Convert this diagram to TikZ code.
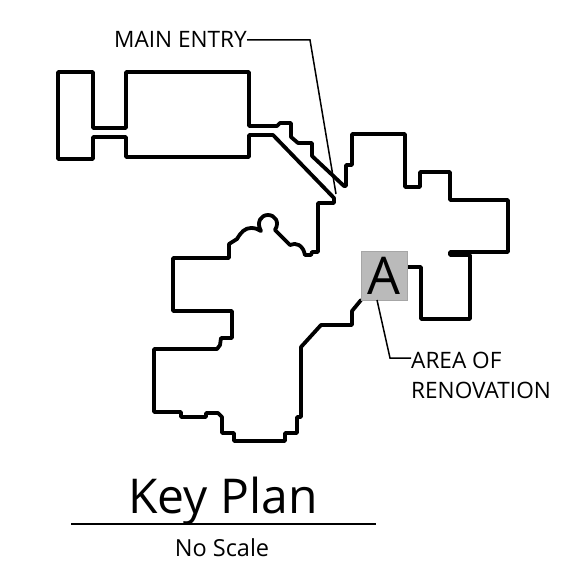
\documentclass[tikz,border=0pt]{standalone}
\usepackage{fontspec}
\setmainfont{Open Sans}
\begin{document}
\begin{tikzpicture}[x=1pt,y=-1pt,
  wall/.style={line width=3.8pt,line join=round,line cap=round,black},
  leader/.style={line width=1.5pt,black},
  lab/.style={inner sep=0pt,font=\fontsize{22.6}{30}\selectfont,align=left}]
\useasboundingbox (0,0) rectangle (567,577);
\draw[wall] (361,300)--(352,311)--(352,325)--(321,325)--(301,347)--(301,417)--(297,417)--(297,433)--(285,433)--(285,441)--(234,441)--(234,433)--(222,433)--(222,417)--(218,413)--(206,413)--(206,417)--(181,417)--(181,412)--(154,412)--(154,349)--(217,349)--(220,345)--(221,338)--(232,338)--(232,311)--(173,311)--(173,258)--(229,258)--(229,244)--(237,239)
 .. controls (241,232) and (245,228) .. (251,228)
 .. controls (255,228) and (258,229) .. (261,231)
 .. controls (256,222) and (261,215) .. (268,215)
 .. controls (275,215) and (280,222) .. (275,230)
 --(290,245)
 .. controls (296,242) and (303,245) .. (305,255)
 --(311,255)--(312,252)--(318,252)--(318,203)--(334,203)--(334,198)--(273,135)--(249,135)--(249,157)--(126,157)--(126,137)--(93,137)--(93,159)--(58,159)--(58,72)--(93,72)--(93,128)--(126,128)--(126,72)--(249,72)--(249,126)--(277,126)--(280,123)--(291,123)--(291,137)--(298,143)--(312,143)--(312,156)--(344,186)--(346,186)--(346,165)--(352,165)--(352,134)--(405,134)--(405,187)--(420,187)--(420,172)--(450,172)--(450,200)--(508,200)--(508,252)--(450,252)--(450,255)--(470,255)--(470,319)--(421,319)--(421,267)--(407,267);
\node[draw=black!35,line width=1pt,fill=black!27,minimum width=46pt,minimum height=49pt,inner sep=0pt,
  font=\fontsize{52}{52}\selectfont] (areaA) at (384,275.5) {A};
\node[lab,anchor=east] (mainentry) at (247,39) {MAIN ENTRY};
\node[lab,anchor=west] (area) at (411,375) {AREA OF\\RENOVATION};
\coordinate (mainbend) at (310,40);
\coordinate (maintip) at (336,194);
\coordinate (areabend) at (390,358);
\coordinate (areaend) at (411,358);
\draw[leader] (mainentry.east |- mainbend) -- (mainbend) -- (maintip);
\draw[leader] (377,300) -- (areabend) -- (areaend);
\node[inner sep=0pt,font=\fontsize{48}{48}\selectfont] (title) at (223,501) {Key Plan};
\coordinate (ruleL) at (71,524);
\coordinate (ruleR) at (376,524);
\draw[line width=1.5pt] (ruleL) -- (ruleR);
\node[inner sep=0pt,font=\fontsize{23.5}{26}\selectfont] (scale) at (222,548) {No Scale};
\end{tikzpicture}
\end{document}
